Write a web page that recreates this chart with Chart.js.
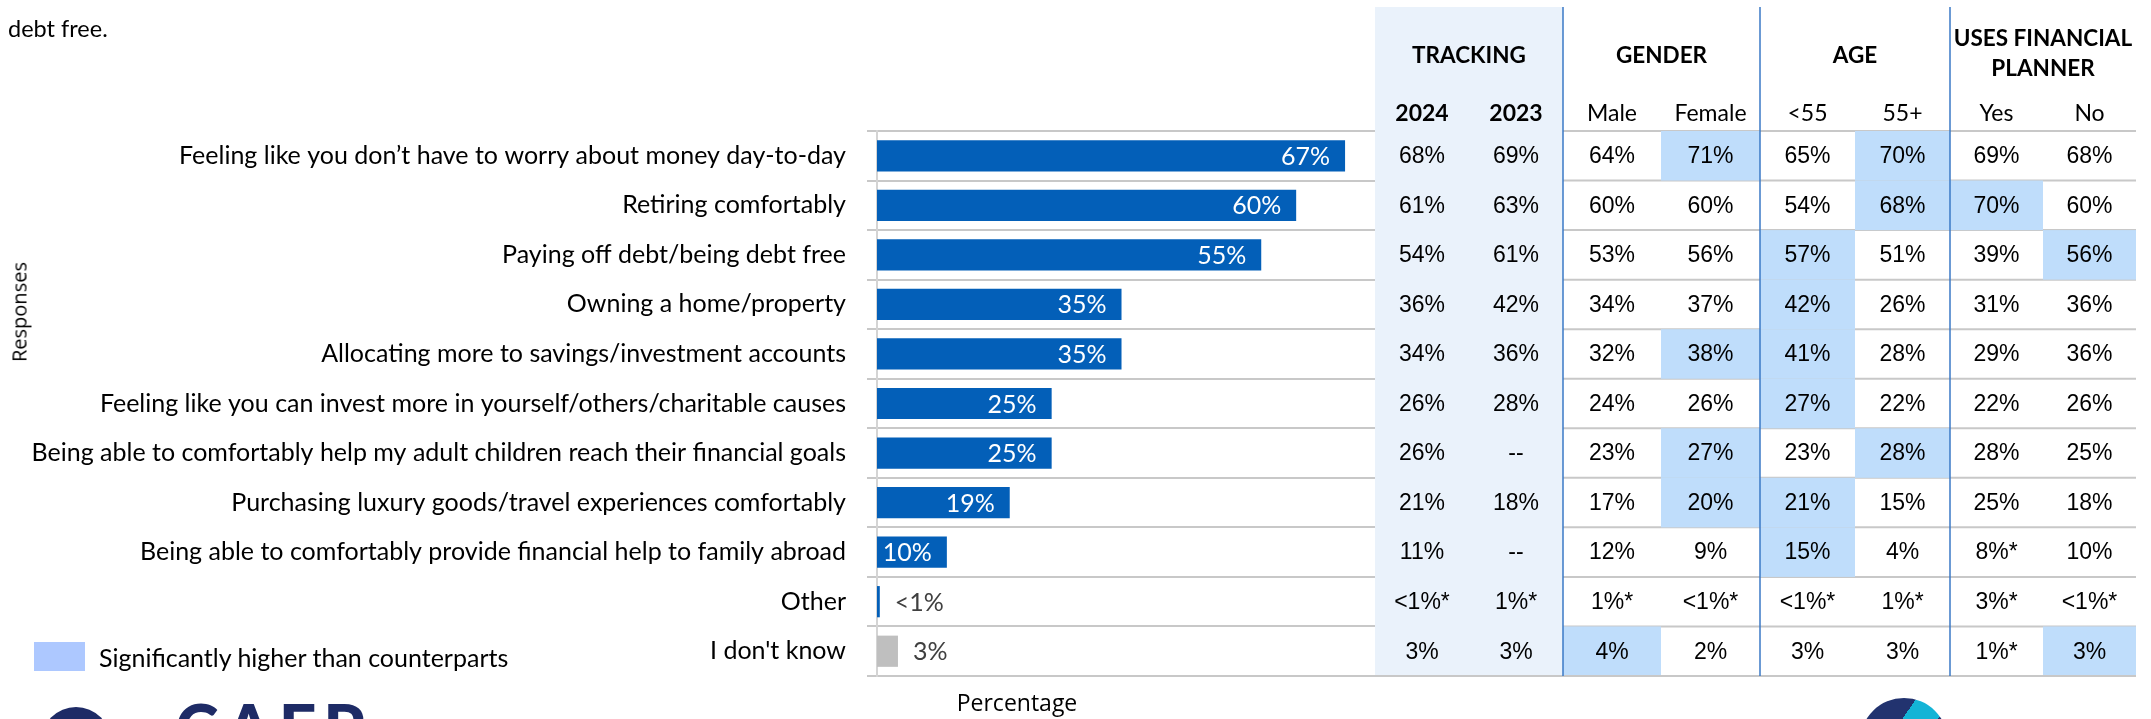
<!DOCTYPE html>
<html>
<head>
<meta charset="utf-8">
<title>Financial priorities</title>
<script src="https://cdn.jsdelivr.net/npm/chart.js@4.4.1/dist/chart.umd.min.js"></script>
<style>
  html, body { margin: 0; padding: 0; background: #fff; }
  body { width: 2151px; height: 719px; position: relative; overflow: hidden; font-family: Lato, sans-serif; color: #000; }
  #wrap { position: absolute; left: 0; top: 0; width: 2151px; height: 719px; }
  .intro { position: absolute; left: 8px; top: 11px; font-size: 23.5px; line-height: 34px; }
  .ytitle { position: absolute; left: 19px; top: 312px; transform: translate(-50%, -50%) rotate(-90deg); font: 20px 'Open Sans', sans-serif; white-space: nowrap; }
  .xtitle { position: absolute; left: 1017px; top: 702px; transform: translate(-50%, -50%); font: 23px 'Open Sans', sans-serif; white-space: nowrap; }
  .key { position: absolute; left: 34px; top: 642px; width: 51px; height: 29px; background: #adc8ff; }
  .keytext { position: absolute; left: 99px; top: 657px; transform: translateY(-50%); font-size: 25px; white-space: nowrap; }
  .logo-dot { position: absolute; left: 41px; top: 707px; width: 70px; height: 70px; border-radius: 50%; background: #1e2b66; }
  .logo-word { position: absolute; left: 175px; top: 695px; font: 900 66px Lato, sans-serif; line-height: 1; color: #1e2b66; letter-spacing: 7px; }
  .logo-ring { position: absolute; left: 1860px; top: 698px; width: 88px; height: 88px; border-radius: 50%;
    background: linear-gradient(125deg, #22336f 0 38%, #14b4d6 38% 62%, #22336f 62%); }
</style>
</head>
<body>
<div id="wrap"><canvas id="prioritiesChart"></canvas></div>
<div class="intro">debt free.</div>
<div class="ytitle">Responses</div>
<div class="xtitle">Percentage</div>
<div class="key"></div>
<div class="keytext">Significantly higher than counterparts</div>
<div class="logo-dot"></div>
<div class="logo-word">CAFP</div>
<div class="logo-ring"></div>

<script>
// Responses and overall share
const responses = [
    'Feeling like you don’t have to worry about money day-to-day',
    'Retiring comfortably',
    'Paying off debt/being debt free',
    'Owning a home/property',
    'Allocating more to savings/investment accounts',
    'Feeling like you can invest more in yourself/others/charitable causes',
    'Being able to comfortably help my adult children reach their financial goals',
    'Purchasing luxury goods/travel experiences comfortably',
    'Being able to comfortably provide financial help to family abroad',
    'Other',
    "I don't know"
];
const overall = [67, 60, 55, 35, 35, 25, 25, 19, 10, 0.4, 3];

// Breakdown columns
const track2024 = ['68%', '61%', '54%', '36%', '34%', '26%', '26%', '21%', '11%', '<1%*', '3%'];
const track2023 = ['69%', '63%', '61%', '42%', '36%', '28%', '--', '18%', '--', '1%*', '3%'];
const male = ['64%', '60%', '53%', '34%', '32%', '24%', '23%', '17%', '12%', '1%*', '4%'];
const female = ['71%', '60%', '56%', '37%', '38%', '26%', '27%', '20%', '9%', '<1%*', '2%'];
const under55 = ['65%', '54%', '57%', '42%', '41%', '27%', '23%', '21%', '15%', '<1%*', '3%'];
const over55 = ['70%', '68%', '51%', '26%', '28%', '22%', '28%', '15%', '4%', '1%*', '3%'];
const plannerYes = ['69%', '70%', '39%', '31%', '29%', '22%', '28%', '25%', '8%*', '3%*', '1%*'];
const plannerNo = ['68%', '60%', '56%', '36%', '36%', '26%', '25%', '18%', '10%', '<1%*', '3%'];

// Rows that are significantly higher than counterparts
const sigMale = [10];
const sigFemale = [0, 4, 6, 7];
const sigUnder55 = [2, 3, 4, 5, 7, 8];
const sigOver55 = [0, 1, 6];
const sigYes = [1];
const sigNo = [2, 10];

const columns = [
    { head: '2024', bold: true, values: track2024, sig: [] },
    { head: '2023', bold: true, values: track2023, sig: [] },
    { head: 'Male', values: male, sig: sigMale },
    { head: 'Female', values: female, sig: sigFemale },
    { head: '<55', values: under55, sig: sigUnder55 },
    { head: '55+', values: over55, sig: sigOver55 },
    { head: 'Yes', values: plannerYes, sig: sigYes },
    { head: 'No', values: plannerNo, sig: sigNo }
];
const groups = [
    { lines: ['TRACKING'], first: 0, last: 1 },
    { lines: ['GENDER'], first: 2, last: 3 },
    { lines: ['AGE'], first: 4, last: 5 },
    { lines: ['USES FINANCIAL', 'PLANNER'], first: 6, last: 7 }
];

// table layout (px)
const colEdges = [1375, 1469, 1563, 1661, 1760, 1855, 1950, 2043, 2136];
const tableTop = 7;

const BLUE = '#035fb8';
const GREY_BAR = '#bfbfbf';
const RULE = '#c8c8c8';

const fmt = v => (v < 1 ? '<1%' : v + '%');

// side table drawn on the same row scale as the bars
const sideTable = {
    id: 'sideTable',
    beforeDatasetsDraw(chart) {
        const { ctx, chartArea, scales: { y } } = chart;
        const step = y.getPixelForValue(1) - y.getPixelForValue(0);
        const top = y.getPixelForValue(0) - step / 2;
        const bottom = y.getPixelForValue(responses.length - 1) + step / 2;
        const right = colEdges[colEdges.length - 1];
        ctx.save();

        ctx.strokeStyle = RULE;
        ctx.lineWidth = 2;
        for (let i = 0; i <= responses.length; i++) {
            const yy = top + i * step;
            ctx.beginPath();
            ctx.moveTo(chartArea.right, yy);
            ctx.lineTo(right, yy);
            ctx.stroke();
        }

        // tracking band
        ctx.fillStyle = '#eaf2fb';
        ctx.fillRect(colEdges[0], tableTop, colEdges[2] - colEdges[0], bottom - 1 - tableTop);

        // significant cells
        ctx.fillStyle = '#bfddfb';
        columns.forEach((col, c) => {
            col.sig.forEach(r => {
                const cy = y.getPixelForValue(r);
                ctx.fillRect(colEdges[c], cy - step / 2, colEdges[c + 1] - colEdges[c], step - (r === responses.length - 1 ? 1 : 0));
            });
        });

        // group dividers
        ctx.strokeStyle = '#3a78c6';
        ctx.lineWidth = 1.5;
        [2, 4, 6].forEach(c => {
            ctx.beginPath();
            ctx.moveTo(colEdges[c], tableTop);
            ctx.lineTo(colEdges[c], bottom);
            ctx.stroke();
        });

        // headers
        ctx.fillStyle = '#000';
        ctx.textAlign = 'center';
        ctx.textBaseline = 'middle';
        ctx.font = 'bold 22.5px Lato';
        groups.forEach(g => {
            const cx = (colEdges[g.first] + colEdges[g.last + 1]) / 2;
            if (g.lines.length === 1) {
                ctx.fillText(g.lines[0], cx, 56);
            } else {
                ctx.fillText(g.lines[0], cx, 39);
                ctx.fillText(g.lines[1], cx, 69);
            }
        });
        columns.forEach((col, c) => {
            const cx = (colEdges[c] + colEdges[c + 1]) / 2;
            ctx.font = (col.bold ? 'bold ' : '') + '23px Lato';
            ctx.fillText(col.head, cx, 114);
        });

        // values
        ctx.font = '23px "Liberation Sans"';
        columns.forEach((col, c) => {
            const cx = (colEdges[c] + colEdges[c + 1]) / 2;
            col.values.forEach((v, r) => {
                ctx.fillText(v, cx, y.getPixelForValue(r) + 1);
            });
        });
        ctx.restore();
    }
};

// value labels at the bar ends
const barLabels = {
    id: 'barLabels',
    afterDatasetsDraw(chart) {
        const { ctx } = chart;
        const meta = chart.getDatasetMeta(0);
        ctx.save();
        ctx.font = '25px Lato';
        ctx.textBaseline = 'middle';
        meta.data.forEach((bar, i) => {
            const v = overall[i];
            if (v >= 10) {
                ctx.fillStyle = '#fff';
                ctx.textAlign = 'right';
                ctx.fillText(fmt(v), bar.x - 15, bar.y + 1);
            } else {
                ctx.fillStyle = '#404040';
                ctx.textAlign = 'left';
                ctx.fillText(fmt(v), bar.x + 15, bar.y + 1);
            }
        });
        ctx.restore();
    }
};

const ctx = document.getElementById('prioritiesChart').getContext('2d');
new Chart(ctx, {
    type: 'bar',
    data: {
        labels: responses,
        datasets: [{
            data: overall,
            backgroundColor: overall.map((v, i) => (i === overall.length - 1 ? GREY_BAR : BLUE)),
            barPercentage: 0.63,
            categoryPercentage: 1
        }]
    },
    options: {
        indexAxis: 'y',
        responsive: true,
        maintainAspectRatio: false,
        animation: false,
        layout: { padding: { top: 131, bottom: 43, left: 0, right: 771 } },
        plugins: {
            legend: { display: false },
            tooltip: { enabled: false }
        },
        scales: {
            x: { display: false, min: 0, max: 72 },
            y: {
                afterFit(scale) { scale.width = 877; },
                grid: { color: RULE, lineWidth: 2, tickLength: 10, offset: true },
                border: { color: '#d4d4d4', width: 2 },
                ticks: {
                    autoSkip: false,
                    padding: 21,
                    color: '#000',
                    font: { family: 'Lato', size: 25 }
                }
            }
        }
    },
    plugins: [sideTable, barLabels]
});
</script>
</body>
</html>
